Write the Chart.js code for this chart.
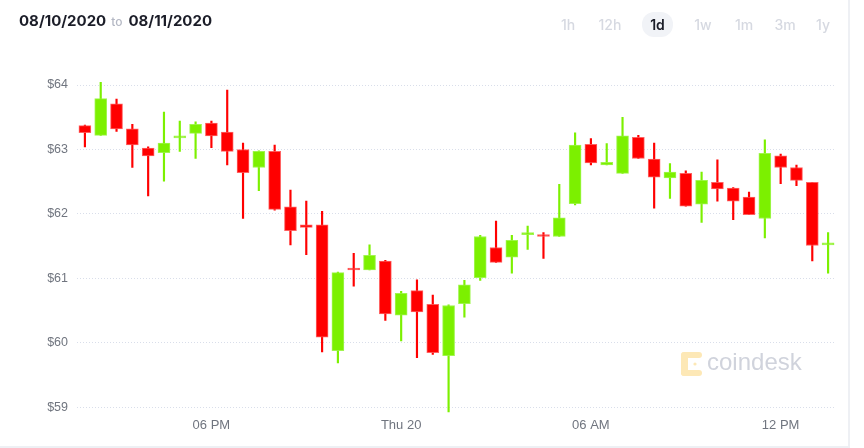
<!DOCTYPE html>
<html>
<head>
<meta charset="utf-8">
<script src="https://cdn.jsdelivr.net/npm/chart.js@4.4.0/dist/chart.umd.min.js"></script>
<style>
  html, body { margin: 0; padding: 0; background: #fff; }
  #wrap { position: relative; width: 864px; height: 448px; overflow: hidden; }
  #card { position: absolute; left: 0; top: 0; width: 848px; height: 446px;
          border-right: 2px solid #eef0f4; border-bottom: 2px solid #eef0f4; }
  canvas { position: absolute; left: 0; top: 0; }
  .range { position: absolute; left: 19px; top: 11px; font-family: Inter, sans-serif;
           font-weight: 700; font-size: 15px; color: #1b1d28; white-space: nowrap; }
  .range .to { font-size: 12px; color: #b4b8c4; font-weight: 500; margin: 0 6px 0 5px; }
  .periods { position: absolute; top: 12px; left: 552px; font-family: Inter, sans-serif;
             font-size: 14px; font-weight: 500; color: #d6d9e1; }
  .periods span { position: absolute; top: 0; height: 25px; line-height: 25px; text-align: center; }
  .periods .on { background: #f1f3f7; color: #1b1d28; font-weight: 600; border-radius: 12px; }
  .mark { position: absolute; left: 681px; top: 352px; }
  .mark svg { position: absolute; left: 0; top: 0; }
  .mark .word { position: absolute; left: 26px; top: -4px; font-family: "Liberation Sans", Arial, sans-serif;
                font-size: 24px; color: #d0d3dc; }
</style>
</head>
<body>
<div id="wrap">
  <div id="card"></div>
  <canvas id="candles" width="864" height="448"></canvas>
  <div class="range">08/10/2020<span class="to">to</span>08/11/2020</div>
  <div class="periods">
    <span style="left:6px;width:20px">1h</span>
    <span style="left:44px;width:28px">12h</span>
    <span class="on" style="left:90px;width:31px">1d</span>
    <span style="left:140px;width:22px">1w</span>
    <span style="left:180px;width:24px">1m</span>
    <span style="left:220px;width:26px">3m</span>
    <span style="left:262px;width:18px">1y</span>
  </div>
  <div class="mark">
    <svg width="22" height="24" viewBox="0 0 22 24">
      <g fill="#fde8b6">
        <rect x="0" y="0" width="21" height="6" rx="3"/>
        <rect x="0" y="0" width="7" height="24" rx="3.5"/>
        <rect x="0" y="18" width="21" height="6" rx="3"/>
        <circle cx="14" cy="12" r="1.6"/>
      </g>
    </svg>
    <span class="word">coindesk</span>
  </div>
</div>
<script>
// half-hour candles, 14:00 -> 13:30 next day
const times = ['14:00','14:30','15:00','15:30','16:00','16:30','17:00','17:30',
               '18:00','18:30','19:00','19:30','20:00','20:30','21:00','21:30',
               '22:00','22:30','23:00','23:30','00:00','00:30','01:00','01:30',
               '02:00','02:30','03:00','03:30','04:00','04:30','05:00','05:30',
               '06:00','06:30','07:00','07:30','08:00','08:30','09:00','09:30',
               '10:00','10:30','11:00','11:30','12:00','12:30','13:00','13:30'];

const opens  = [63.37,63.22,63.71,63.32,63.02,62.95,63.18,63.25,63.41,63.27,63.00,62.72,
                62.97,62.11,61.83,61.83,59.88,61.15,61.13,61.27,60.43,60.81,60.60,59.80,
                60.61,61.01,61.48,61.33,61.68,61.66,61.65,62.16,63.08,62.76,62.63,63.19,
                62.85,62.56,62.63,62.15,62.49,62.40,62.26,61.93,62.90,62.72,62.49,61.52];
const highs  = [63.38,64.04,63.78,63.39,63.04,63.58,63.44,63.43,63.44,63.92,63.10,62.98,
                63.07,62.37,62.20,62.04,61.10,61.39,61.52,61.28,60.80,60.98,60.74,60.59,
                60.97,61.67,61.89,61.67,61.81,61.71,62.46,63.26,63.17,63.09,63.50,63.22,
                63.10,62.78,62.67,62.65,62.84,62.41,62.34,63.15,62.93,62.76,62.49,61.71];
const lows   = [63.04,63.22,63.28,62.72,62.28,62.51,62.97,62.86,63.03,62.76,61.93,62.36,
                62.06,61.52,61.37,59.86,59.69,60.88,61.13,60.35,60.03,59.77,59.82,58.93,
                60.40,60.97,61.25,61.08,61.45,61.31,61.65,62.14,62.76,62.76,62.63,62.86,
                62.09,62.24,62.12,61.87,62.20,61.91,61.99,61.63,62.47,62.44,61.27,61.08];
const closes = [63.26,63.79,63.32,63.07,62.90,63.10,63.21,63.39,63.21,62.97,62.64,62.97,
                62.07,61.74,61.79,60.09,61.09,61.13,61.36,60.45,60.77,60.48,59.85,60.58,
                60.90,61.65,61.25,61.59,61.70,61.65,61.94,63.07,62.79,62.80,63.21,62.86,
                62.57,62.65,62.12,62.52,62.39,62.20,61.99,62.94,62.72,62.52,61.51,61.53];

const yTicks = [59, 60, 61, 62, 63, 64];
const xTickAt = ['18:00', '00:00', '06:00', '12:00'];
const xTickText = ['06 PM', 'Thu 20', '06 AM', '12 PM'];

const UP = '#7cf000';
const DOWN = '#ff0000';
const upEdge = 'rgba(150,244,60,0.9)';
const downEdge = 'rgba(255,80,80,0.9)';

function isUp(i) { return closes[i] >= opens[i]; }

new Chart(document.getElementById('candles').getContext('2d'), {
    type: 'bar',
    data: {
        labels: times,
        datasets: [{
            label: 'wick',
            data: lows.map((l, i) => [l, highs[i]]),
            backgroundColor: ctx => isUp(ctx.dataIndex) ? UP : DOWN,
            barThickness: 1.5,
            grouped: false,
            order: 2
        }, {
            label: 'body',
            data: opens.map((o, i) => [o, closes[i]]),
            backgroundColor: ctx => isUp(ctx.dataIndex) ? UP : DOWN,
            borderColor: ctx => isUp(ctx.dataIndex) ? upEdge : downEdge,
            borderWidth: 1,
            borderSkipped: false,
            barThickness: 12,
            minBarLength: 2,
            grouped: false,
            order: 1
        }]
    },
    options: {
        responsive: false,
        animation: false,
        events: [],
        layout: { padding: { top: 68.9, right: 28, left: 0, bottom: 0 } },
        plugins: {
            legend: { display: false },
            tooltip: { enabled: false }
        },
        scales: {
            x: {
                grid: { display: false, drawTicks: false },
                border: { display: false },
                afterFit: s => { s.height = 34.2; },
                ticks: {
                    autoSkip: false,
                    maxRotation: 0,
                    padding: 4,
                    color: '#70757f',
                    font: { family: '"Liberation Sans", Arial, sans-serif', size: 13 },
                    callback: function (v) {
                        const k = xTickAt.indexOf(times[v]);
                        return k >= 0 ? xTickText[k] : null;
                    }
                }
            },
            y: {
                min: 58.9,
                max: 64.25,
                afterBuildTicks: s => { s.ticks = yTicks.map(v => ({ value: v })); },
                afterFit: s => { s.width = 77; },
                grid: { color: '#d9deea', lineWidth: 1, drawTicks: false },
                border: { display: false, dash: [1, 2] },
                ticks: {
                    padding: 9,
                    color: '#70757f',
                    font: { family: '"Liberation Sans", Arial, sans-serif', size: 12.5 },
                    callback: v => '$' + v
                }
            }
        }
    }
});
</script>
</body>
</html>
